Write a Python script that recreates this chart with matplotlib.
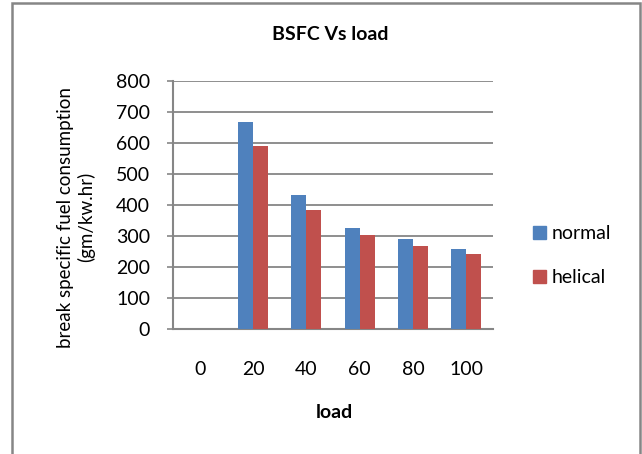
import matplotlib
matplotlib.use('Agg')
import matplotlib.pyplot as plt
from matplotlib.patches import Rectangle, Patch
import numpy as np

plt.rcParams['font.family'] = ['Lato', 'DejaVu Sans']

loads = ['0', '20', '40', '60', '80', '100']
normal = [0, 667, 432, 325, 291, 259]
helical = [0, 589, 383, 303, 269, 242]
y_ticks = [0, 100, 200, 300, 400, 500, 600, 700, 800]

blue = '#4F81BD'
red = '#C0504D'
gray = '#868686'

fig = plt.figure(figsize=(6.42, 4.54), dpi=100)
ax = fig.add_axes([173/642, 1 - 329/454, 320/642, 248/454])

x = np.arange(len(loads))
w = 0.28
ax.bar(x - w/2, normal, w, color=blue, zorder=3)
ax.bar(x + w/2, helical, w, color=red, zorder=3)

ax.set_xlim(-0.5, len(loads) - 0.5)
ax.set_ylim(0, 800)
ax.set_yticks(y_ticks)
ax.set_xticks(x)
ax.set_xticklabels(loads)
ax.yaxis.grid(True, color=gray, linewidth=1.3, zorder=0)
ax.set_axisbelow(True)

for s in ['top', 'right']:
    ax.spines[s].set_visible(False)
for s in ['left', 'bottom']:
    ax.spines[s].set_color(gray)
    ax.spines[s].set_linewidth(1.5)

ax.tick_params(axis='y', direction='out', length=4.5, width=1.2, color=gray,
               pad=12, labelsize=14)
ax.tick_params(axis='x', length=0, pad=23, labelsize=14)

fig.text(330/642, 1 - 35/454, 'BSFC Vs load', ha='center', va='center',
         fontsize=14, fontweight='bold')
fig.text(334/642, 1 - 412/454, 'load', ha='center', va='center',
         fontsize=14, fontweight='bold')
fig.text(76/642, 1 - 217/454, 'break specific fuel consumption\n(gm/kw.hr)',
         ha='center', va='center', rotation=90, fontsize=13.5,
         multialignment='center', linespacing=1.15)

handles = [Patch(color=blue, label='normal'), Patch(color=red, label='helical')]
fig.legend(handles=handles, loc='upper left',
           bbox_to_anchor=(533/642, 1 - 225/454), bbox_transform=fig.transFigure,
           frameon=False, fontsize=14, handlelength=0.65, handleheight=0.65,
           handletextpad=0.3, labelspacing=1.4, borderpad=0, borderaxespad=0)

fig.patches.append(Rectangle((12/642, -0.1), 628/642, 1.1 - 3/454,
                             transform=fig.transFigure, fill=False,
                             edgecolor=gray, linewidth=1.8))

fig.savefig('out.png', dpi=100)
